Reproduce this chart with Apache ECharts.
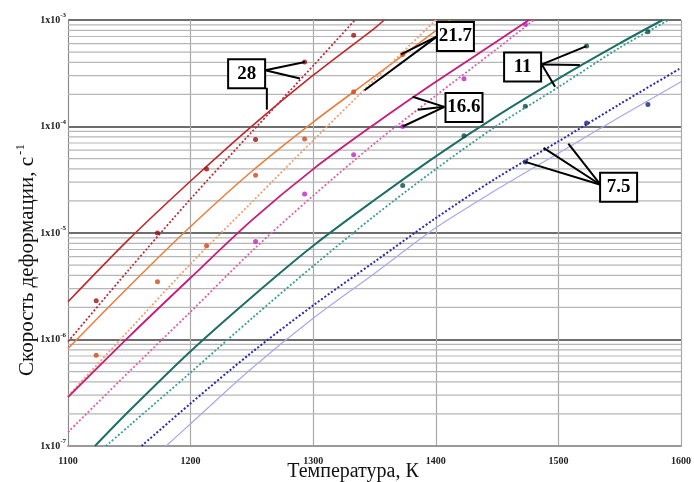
<!DOCTYPE html>
<html>
<head>
<meta charset="utf-8">
<script src="https://cdn.jsdelivr.net/npm/echarts@6/dist/echarts.min.js"></script>
<style>
  html, body { margin: 0; padding: 0; background: #fff; }
  #chart { width: 694px; height: 482px; }
</style>
</head>
<body>
<div id="chart"></div>
<script>
// temperature, K  ->  strain rate, 1/s
const t28Solid = [1100, 1150, 1200, 1250, 1300, 1350, 1358]
const v28Solid = [2.26e-6, 8.81e-6, 3.08e-5, 1.01e-4, 3.03e-4, 8.36e-4, 1.0e-3]
const t28Dot = [1100, 1150, 1200, 1250, 1300, 1334]
const v28Dot = [9.55e-7, 4.57e-6, 2.09e-5, 8.91e-5, 3.72e-4, 1.0e-3]
const t28Pts = [1123, 1173, 1213, 1253, 1293, 1333]
const v28Pts = [2.31e-6, 1.0e-5, 3.99e-5, 7.53e-5, 4.03e-4, 7.18e-4]

const t217Solid = [1100, 1150, 1200, 1250, 1300, 1350, 1400, 1412]
const v217Solid = [8.22e-7, 3.16e-6, 1.15e-5, 3.80e-5, 1.10e-4, 2.95e-4, 7.94e-4, 1.0e-3]
const t217Dot = [1100, 1150, 1200, 1250, 1300, 1350, 1400]
const v217Dot = [2.95e-7, 1.23e-6, 5.13e-6, 1.95e-5, 7.41e-5, 2.75e-4, 1.0e-3]
const t217Pts = [1123, 1173, 1213, 1253, 1293, 1333, 1373]
const v217Pts = [7.11e-7, 3.48e-6, 7.60e-6, 3.48e-5, 7.64e-5, 2.12e-4, 4.75e-4]

const t166Solid = [1100, 1150, 1200, 1250, 1300, 1350, 1400, 1450, 1476]
const v166Solid = [2.88e-7, 1.07e-6, 3.80e-6, 1.32e-5, 3.98e-5, 1.05e-4, 2.63e-4, 6.31e-4, 1.0e-3]
const t166Dot = [1100, 1150, 1200, 1250, 1300, 1350, 1400, 1450, 1480]
const v166Dot = [1.35e-7, 5.01e-7, 1.82e-6, 6.76e-6, 2.24e-5, 6.92e-5, 1.95e-4, 5.37e-4, 1.0e-3]
const t166Pts = [1253, 1293, 1333, 1373, 1423, 1473]
const v166Pts = [8.32e-6, 2.33e-5, 5.43e-5, 1.0e-4, 2.81e-4, 9.12e-4]

const t11Solid = [1122, 1150, 1200, 1250, 1300, 1350, 1400, 1450, 1500, 1550, 1585]
const v11Solid = [1.0e-7, 2.14e-7, 7.76e-7, 2.51e-6, 7.59e-6, 2.04e-5, 5.25e-5, 1.26e-4, 2.82e-4, 6.03e-4, 1.0e-3]
const t11Dot = [1131, 1150, 1200, 1250, 1300, 1350, 1400, 1450, 1500, 1550, 1590]
const v11Dot = [1.0e-7, 1.55e-7, 4.90e-7, 1.58e-6, 4.90e-6, 1.45e-5, 3.98e-5, 1.02e-4, 2.34e-4, 5.50e-4, 1.0e-3]
const t11Pts = [1373, 1423, 1473, 1523, 1573]
const v11Pts = [2.80e-5, 8.20e-5, 1.55e-4, 5.69e-4, 7.76e-4]

const t75Dot = [1160, 1200, 1250, 1300, 1350, 1400, 1450, 1500, 1550, 1600]
const v75Dot = [1.0e-7, 2.51e-7, 7.59e-7, 2.09e-6, 5.37e-6, 1.38e-5, 3.31e-5, 7.24e-5, 1.62e-4, 3.55e-4]
const t75Solid = [1180, 1200, 1250, 1300, 1350, 1400, 1450, 1500, 1550, 1600]
const v75Solid = [1.0e-7, 1.62e-7, 5.37e-7, 1.58e-6, 4.17e-6, 1.12e-5, 2.57e-5, 5.62e-5, 1.23e-4, 2.63e-4]
const t75Pts = [1473, 1523, 1573]
const v75Pts = [4.65e-5, 1.08e-4, 1.61e-4]

// callout boxes: label, box centre [T, rate], pointer segments [T1, rate1, T2, rate2]
const annoLabels = ['28', '21.7', '16.6', '11', '7.5']
const annoBox = [[1245.7, 3.13e-4], [1416, 7.0e-4], [1423, 1.51e-4], [1470.8, 3.62e-4], [1549.1, 2.69e-5]]
const annoLines = [
  [[1260.9, 3.38e-4, 1293.3, 4.03e-4], [1260.9, 3.38e-4, 1289.2, 2.82e-4], [1262.2, 2.31e-4, 1262.2, 1.44e-4]],
  [[1401.4, 7.06e-4, 1371.6, 4.75e-4], [1401.4, 7.06e-4, 1341.9, 2.19e-4]],
  [[1407, 1.53e-4, 1381.1, 1.90e-4], [1407, 1.53e-4, 1385.2, 1.44e-4], [1407, 1.53e-4, 1373, 1.0e-4]],
  [[1486.5, 3.83e-4, 1522.9, 5.69e-4], [1486.5, 3.83e-4, 1517.5, 3.77e-4], [1486.5, 3.83e-4, 1497.3, 2.36e-4]],
  [[1534.3, 2.84e-5, 1473, 4.65e-5], [1534.3, 2.84e-5, 1487.9, 6.30e-5], [1534.3, 2.84e-5, 1508.1, 6.90e-5]]
]

const xMin = 1100, xMax = 1600
// minor log grid: 2..9 in every decade
const minorGrid = []
for (let d = -7; d < -3; d++) {
  for (let m = 2; m <= 9; m++) minorGrid.push(m * Math.pow(10, d))
}

const serif = '"Liberation Serif", "DejaVu Serif", serif'
const pairs = (t, v) => t.map((x, i) => [x, v[i]])

const curve = (t, v, color, width, dotted) => ({
  type: 'line',
  data: pairs(t, v),
  smooth: 0.3,
  showSymbol: false,
  silent: true,
  z: 3,
  lineStyle: { color: color, width: width, type: dotted ? [2, 2] : 'solid' }
})

const points = (t, v, color) => ({
  type: 'scatter',
  data: pairs(t, v),
  symbolSize: 5,
  silent: true,
  z: 4,
  itemStyle: { color: color }
})

const chart = echarts.init(document.getElementById('chart'))

const option = {
  backgroundColor: '#fff',
  animation: false,
  grid: { left: 68, right: 9, top: 20, bottom: 36 },
  xAxis: {
    type: 'value',
    min: xMin,
    max: xMax,
    interval: 100,
    axisLine: { show: true, onZero: false, lineStyle: { color: '#9a9a9a', width: 2 } },
    axisTick: { show: false },
    splitLine: { show: true, lineStyle: { color: '#a9a9a9', width: 1.2 } },
    axisLabel: {
      margin: 10, color: '#222', fontFamily: serif, fontWeight: 'bold', fontSize: 10,
      formatter: v => String(v)
    }
  },
  yAxis: {
    type: 'log',
    logBase: 10,
    min: 1e-7,
    max: 1e-3,
    axisLine: { show: true, lineStyle: { color: '#888', width: 1 } },
    axisTick: { show: false },
    splitLine: { show: true, lineStyle: { color: '#6e6e6e', width: 2 } },
    axisLabel: {
      margin: 2,
      formatter: v => '{b|1x10}{e|' + Math.round(Math.log10(v)) + '}',
      rich: {
        b: { fontFamily: serif, fontWeight: 'bold', fontSize: 10, color: '#222' },
        e: { fontFamily: serif, fontWeight: 'bold', fontSize: 7, color: '#222', padding: [0, 0, 9, 0] }
      }
    }
  },
  graphic: [
    {
      type: 'text', x: 353, y: 472,
      style: { text: 'Температура, К', font: '20px ' + serif, fill: '#111', align: 'center', verticalAlign: 'middle' }
    },
    {
      type: 'text', x: 27, y: 260, rotation: Math.PI / 2,
      style: {
        text: '{a|Скорость деформации, с}{s|-1}',
        align: 'center', verticalAlign: 'middle',
        rich: {
          a: { font: '21px ' + serif, fill: '#111' },
          s: { font: '13px ' + serif, fill: '#111', padding: [0, 0, 12, 2] }
        }
      }
    }
  ],
  series: [
    {
      // light minor grid lines
      type: 'custom',
      silent: true,
      z: 1,
      data: minorGrid.map(v => [xMin, v]),
      encode: { x: 0, y: 1 },
      renderItem: (params, api) => {
        const a = api.coord([xMin, api.value(1)])
        const b = api.coord([xMax, api.value(1)])
        return { type: 'line', shape: { x1: a[0], y1: a[1], x2: b[0], y2: b[1] }, style: { stroke: '#b6b6b6', lineWidth: 1.2 } }
      }
    },
    curve(t28Solid, v28Solid, '#c0262b', 1.6, false),
    curve(t28Dot, v28Dot, '#b8303a', 1.8, true),
    points(t28Pts, v28Pts, '#9e1010'),
    curve(t217Solid, v217Solid, '#e8803f', 1.6, false),
    curve(t217Dot, v217Dot, '#f0a070', 1.8, true),
    points(t217Pts, v217Pts, '#d0481a'),
    curve(t166Solid, v166Solid, '#c81a78', 1.8, false),
    curve(t166Dot, v166Dot, '#e060a8', 1.8, true),
    points(t166Pts, v166Pts, '#c020c8'),
    curve(t11Solid, v11Solid, '#1c6e66', 2, false),
    curve(t11Dot, v11Dot, '#3a9e92', 1.8, true),
    points(t11Pts, v11Pts, '#0e4a44'),
    curve(t75Dot, v75Dot, '#2a2aaa', 2, true),
    curve(t75Solid, v75Solid, '#a8a8ec', 1.2, false),
    points(t75Pts, v75Pts, '#20207a'),
    {
      // callout boxes with pointer lines
      type: 'custom',
      silent: true,
      clip: false,
      z: 10,
      data: annoBox,
      encode: { x: 0, y: 1 },
      renderItem: (params, api) => {
        const i = params.dataIndex
        const c = api.coord(annoBox[i])
        const children = annoLines[i].map(l => {
          const a = api.coord([l[0], l[1]])
          const b = api.coord([l[2], l[3]])
          return { type: 'line', shape: { x1: a[0], y1: a[1], x2: b[0], y2: b[1] }, style: { stroke: '#000', lineWidth: 2 } }
        })
        children.push({
          type: 'rect',
          shape: { x: c[0] - 18.5, y: c[1] - 14.5, width: 37, height: 29 },
          style: { fill: '#fff', stroke: '#000', lineWidth: 2 }
        })
        children.push({
          type: 'text',
          style: { text: annoLabels[i], x: c[0], y: c[1], align: 'center', verticalAlign: 'middle', font: 'bold 19px ' + serif, fill: '#000' }
        })
        return { type: 'group', children: children }
      }
    }
  ]
}

chart.setOption(option)
</script>
</body>
</html>
